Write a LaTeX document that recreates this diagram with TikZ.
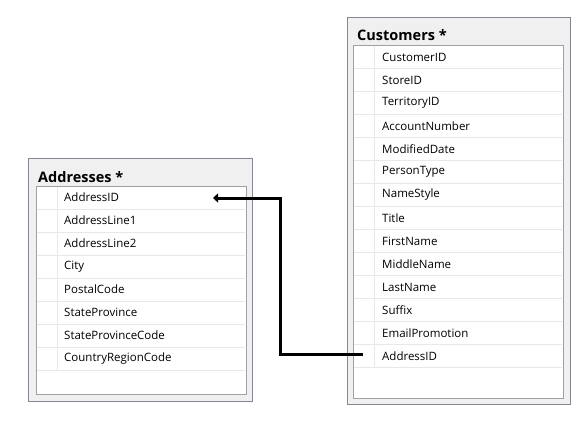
\documentclass[tikz,border=0pt]{standalone}
\usepackage{fontspec}
\setmainfont{Open Sans}
\usetikzlibrary{positioning, arrows.meta}

\definecolor{paneFill}{HTML}{F0F0F0}
\definecolor{paneLine}{HTML}{828790}
\definecolor{gridLine}{HTML}{A0A0A0}
\definecolor{rowLine}{HTML}{E8E8E8}

\begin{document}
\begin{tikzpicture}[
    x=1pt, y=-1pt,
    pane/.style={draw=paneLine, fill=paneFill, line width=1pt},
    grid/.style={draw=gridLine, fill=white, line width=1pt},
    sep/.style={draw=rowLine, line width=1pt},
    title/.style={anchor=base west, inner sep=0pt, font=\fontsize{14.5}{16}\selectfont\bfseries},
    field/.style={anchor=west, inner sep=0pt, font=\fontsize{11.5}{14}\selectfont},
    link/.style={draw=black, line width=3pt, -{Triangle[length=5pt, width=9pt]}}
  ]
  \useasboundingbox (0,0) rectangle (588,421);

  % Addresses table
  \draw[pane] (28,158) rectangle (252,401);
  \draw[grid] (36,186) rectangle (246,394);
  \node[title] (addr-title) at (38,182) {Addresses *};
  \foreach \name [count=\i] in {AddressID, AddressLine1, AddressLine2, City,
      PostalCode, StateProvince, StateProvinceCode, CountryRegionCode} {
    \node[field] (addr-\i) at (64,174.5+23*\i) {\name};
    \draw[sep] (37,186+23*\i) -- (245,186+23*\i);
  }
  \draw[sep] (57,187) -- (57,370);

  % Customers table
  \draw[pane] (347,17) rectangle (570,404);
  \draw[grid] (353,45) rectangle (563,398);
  \node[title] (cust-title) at (357,40) {Customers *};
  \foreach \name [count=\i] in {CustomerID, StoreID, TerritoryID, AccountNumber,
      ModifiedDate, PersonType, NameStyle, Title, FirstName, MiddleName,
      LastName, Suffix, EmailPromotion, AddressID} {
    \node[field] (cust-\i) at (382,34+23*\i) {\name};
    \draw[sep] (354,45.5+23*\i) -- (562,45.5+23*\i);
  }
  \draw[sep] (374,46) -- (374,367.5);

  % relationship
  \coordinate (fk-from) at (363,354);
  \coordinate (fk-to) at (213,198);
  \draw[link] (fk-from) -- ++(-83,0) |- (fk-to);
\end{tikzpicture}
\end{document}
